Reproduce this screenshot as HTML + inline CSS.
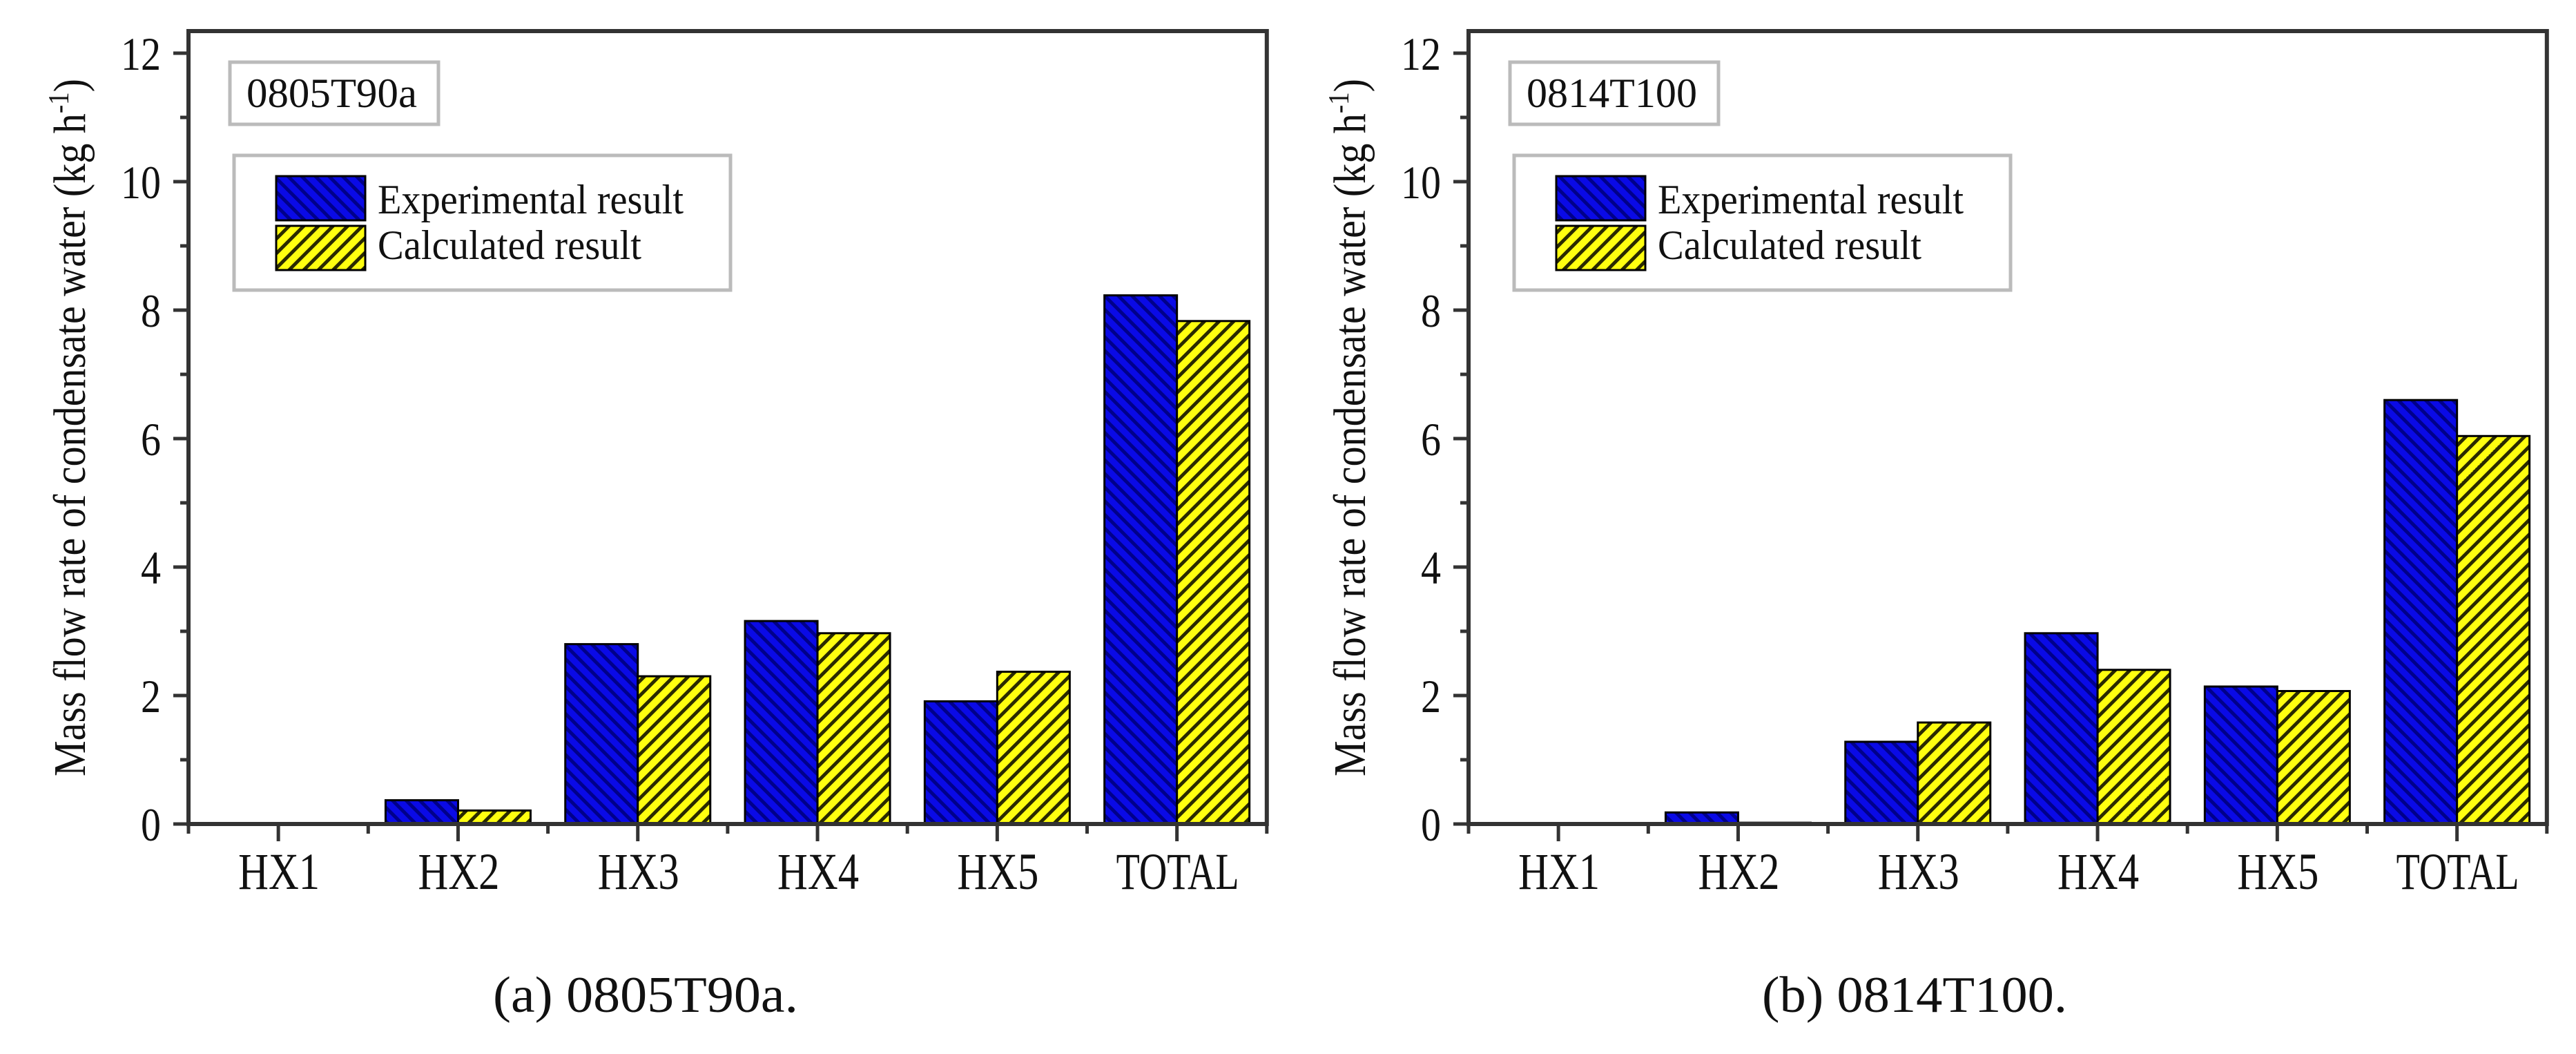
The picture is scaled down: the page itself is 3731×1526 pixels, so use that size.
<!DOCTYPE html>
<html>
<head>
<meta charset="utf-8">
<style>
html,body{margin:0;padding:0;background:#fff;}
svg{display:block;}
text{font-family:"Liberation Serif",serif;fill:#111;}
</style>
</head>
<body>
<svg id="fig" width="3731" height="1526" viewBox="0 0 3731 1526" xmlns="http://www.w3.org/2000/svg">
<defs>
<pattern id="hatchBlue" patternUnits="userSpaceOnUse" width="14" height="14" patternTransform="rotate(-45)">
<rect width="14" height="14" fill="#0a0ae6"/>
<rect width="5" height="14" fill="#00008a"/>
</pattern>
<pattern id="hatchYellow" patternUnits="userSpaceOnUse" width="15" height="15" patternTransform="rotate(45)">
<rect width="15" height="15" fill="#ffff10"/>
<rect width="5" height="15" fill="#2a2a00"/>
</pattern>
</defs>
</svg>
<script>
// ---- data ----
const categories = ["HX1","HX2","HX3","HX4","HX5","TOTAL"];
const expA = [0, 0.37, 2.80, 3.16, 1.91, 8.23];
const calcA = [0, 0.21, 2.30, 2.97, 2.37, 7.83];
const expB = [0, 0.18, 1.28, 2.97, 2.14, 6.60];
const calcB = [0, 0.02, 1.58, 2.40, 2.07, 6.04];
const yTicks = [0, 2, 4, 6, 8, 10, 12];
const panelLabels = ["0805T90a", "0814T100"];
const captions = ["(a) 0805T90a.", "(b) 0814T100."];
const legendLabels = ["Experimental result", "Calculated result"];

const NS = "http://www.w3.org/2000/svg";
const svg = document.getElementById('fig');
function mk(tag, attrs, parent){
  const e = document.createElementNS(NS, tag);
  for (const k in attrs) e.setAttribute(k, attrs[k]);
  (parent||svg).appendChild(e);
  return e;
}
function txt(parent, x, y, str, size, len, anchor){
  const t = mk('text', {x:x, y:y, 'font-size':size, 'text-anchor':anchor||'start', textLength:len, lengthAdjust:'spacingAndGlyphs'}, parent);
  t.textContent = str;
  return t;
}

const Y0 = 1193, PXU = 93, TOP = 45, CAT = 260.3, BW = 105;

function drawPanel(ox, exp, calc, label, caption, idx){
  const g = mk('g', {});
  
  
  const x0 = ox, x1 = ox + 6*CAT;
  const yScale = v => Y0 - v*PXU;
  const xCenter = i => x0 + (i+0.5)*CAT;

  // bars
  categories.forEach((c,i)=>{
    const cx = xCenter(i);
    const vE = exp[i], vC = calc[i];
    if (vE > 0){
      const r = mk('rect', {x:cx-BW, y:yScale(vE), width:BW, height:Y0-yScale(vE), fill:'url(#hatchBlue)', stroke:'#000', 'stroke-width':3}, g);
      
      
    }
    if (vC > 0){
      const r = mk('rect', {x:cx, y:yScale(vC), width:BW, height:Y0-yScale(vC), fill:'url(#hatchYellow)', stroke:'#000', 'stroke-width':3}, g);
      
      
    }
  });

  // frame
  const fr = mk('rect', {x:x0, y:TOP, width:x1-x0, height:Y0-TOP, fill:'none', stroke:'#333', 'stroke-width':6}, g);
  
  

  // y ticks
  for (let v=0; v<=12; v++){
    const y = yScale(v);
    const len = (v%2===0) ? 22 : 12;
    mk('line', {x1:x0-len, y1:y, x2:x0, y2:y, stroke:'#333', 'stroke-width':5}, g);
  }
  yTicks.forEach(v=>{
    const s = String(v);
    const t = txt(g, x0-40, yScale(v)+24, s, 68, s.length*29, 'end');
    
    
  });
  // x ticks
  for (let i=0;i<=6;i++){
    mk('line', {x1:x0+i*CAT, y1:Y0, x2:x0+i*CAT, y2:Y0+14, stroke:'#333', 'stroke-width':5}, g);
  }
  categories.forEach((c,i)=>{
    mk('line', {x1:xCenter(i), y1:Y0, x2:xCenter(i), y2:Y0+25, stroke:'#333', 'stroke-width':5}, g);
    const t = txt(g, xCenter(i)+1, 1287, c, 75, c.length===5?178:118, 'middle');
    
    
  });

  // y title
  const yt = mk('text', {x:0, y:0, 'font-size':66, 'text-anchor':'middle', textLength:1010, lengthAdjust:'spacingAndGlyphs', transform:`translate(${ox-150},${(TOP+Y0)/2}) rotate(-90)`}, g);
  
  
  yt.innerHTML = 'Mass flow rate of condensate water (kg h<tspan dy="-24" font-size="42">-1</tspan><tspan dy="24">)</tspan>';

  // panel label box
  const lb = mk('g', {}, g);
  
  
  mk('rect', {x:ox+60, y:90, width:302, height:90, fill:'#fff', stroke:'#bbb', 'stroke-width':5}, lb);
  txt(lb, ox+84, 155, label, 60, 247);

  // legend
  const lg = mk('g', {}, g);
  
  
  mk('rect', {x:ox+66, y:225, width:719, height:195, fill:'#fff', stroke:'#bbb', 'stroke-width':5}, lg);
  const s1 = mk('rect', {x:ox+127, y:255, width:129, height:64, fill:'url(#hatchBlue)', stroke:'#000', 'stroke-width':3}, lg);
  
  
  const s2 = mk('rect', {x:ox+127, y:327, width:129, height:64, fill:'url(#hatchYellow)', stroke:'#000', 'stroke-width':3}, lg);
  
  
  const l1 = txt(lg, ox+274, 309, legendLabels[0], 60, 443);
  
  
  const l2 = txt(lg, ox+274, 375, legendLabels[1], 60, 382);
  
  

  // caption
  const cap = txt(g, idx===0 ? 935 : 2773, 1465, caption, 74, 442, 'middle');
  
  
}

drawPanel(273, expA, calcA, panelLabels[0], captions[0], 0);
drawPanel(2127, expB, calcB, panelLabels[1], captions[1], 1);
</script>
</body>
</html>
